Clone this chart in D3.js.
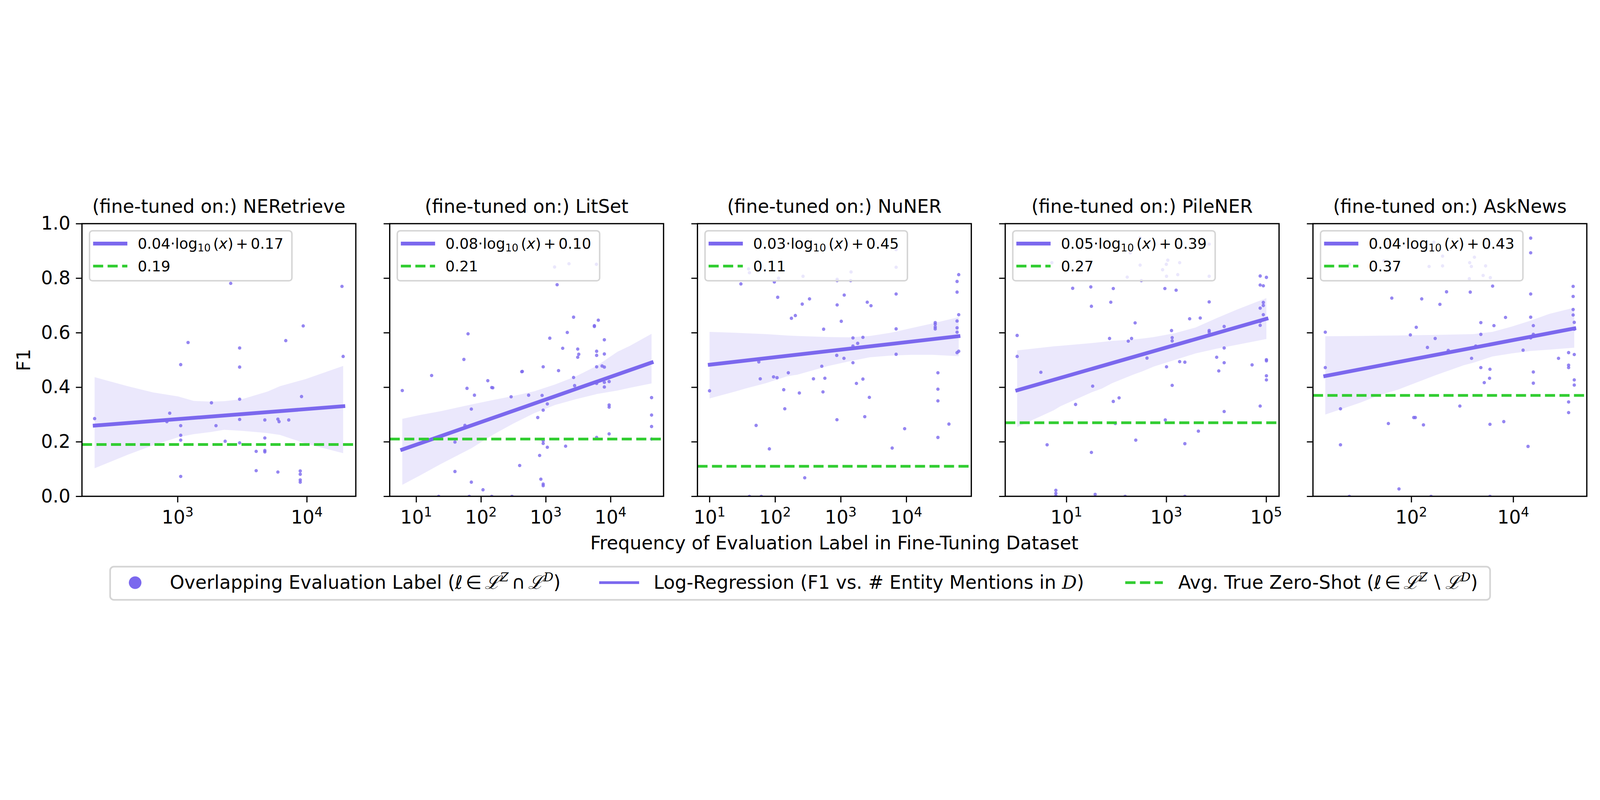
<!DOCTYPE html>
<html>
<head>
<meta charset="utf-8">
<script src="https://cdn.jsdelivr.net/npm/d3@7"></script>
<style>
  html, body { margin: 0; padding: 0; background: #fff; overflow: hidden; }
  svg { display: block; width: 100vw; height: 100vh; font-family: "DejaVu Sans", sans-serif; }
</style>
</head>
<body>
<svg id="chart" viewBox="0 0 7613 2049" preserveAspectRatio="xMidYMid meet"></svg>
<script>
// panel titles and fit labels
var titles = ["NERetrieve", "LitSet", "NuNER", "PileNER", "AskNews"];
var slopes = ["0.04", "0.08", "0.03", "0.05", "0.04"];
var intercepts = ["0.17", "0.10", "0.45", "0.39", "0.43"];
var zeroShot = [0.19, 0.21, 0.11, 0.27, 0.37];

// x limits and ticks as log10 exponents
var xLimits = [[2.26, 4.379], [0.591, 4.818], [0.816, 4.99], [-0.226, 5.257], [0.07, 5.443]];
var xTicks = [[3, 4], [1, 2, 3, 4], [1, 2, 3, 4], [1, 3, 5], [2, 4]];
var yTicks = [0, 0.2, 0.4, 0.6, 0.8, 1.0];

// scatter points: [log10(frequency), F1]
var nerPts = [[2.358,0.285],[2.917,0.274],[2.939,0.305],[3.024,0.483],[3.024,0.259],[3.024,0.224],[3.024,0.206],[3.024,0.073],[3.081,0.564],[3.262,0.343],[3.297,0.259],[3.368,0.202],[3.411,0.781],[3.48,0.544],[3.48,0.474],[3.48,0.356],[3.48,0.282],[3.48,0.196],[3.608,0.165],[3.608,0.094],[3.675,0.28],[3.675,0.214],[3.675,0.168],[3.675,0.163],[3.776,0.283],[3.776,0.089],[3.785,0.274],[3.837,0.571],[3.86,0.28],[3.949,0.093],[3.949,0.081],[3.949,0.06],[3.949,0.052],[3.959,0.366],[3.972,0.625],[4.272,0.77],[4.281,0.513]];
var litPts = [[0.785,0.388],[1.238,0.443],[1.347,0],[1.598,0.199],[1.598,0.091],[1.736,0.502],[1.752,0.26],[1.784,0.396],[1.8,0.596],[1.819,0],[1.851,0.32],[1.851,0.052],[1.899,0.371],[2.031,0.024],[2.105,0.424],[2.166,0.399],[2.182,0.398],[2.166,0],[2.465,0.365],[2.478,0],[2.597,0.113],[2.629,0.457],[2.638,0.458],[2.735,0.371],[2.876,0.289],[2.905,0.15],[2.924,0.063],[2.943,0.37],[2.96,0.475],[2.96,0.316],[2.96,0.204],[2.96,0.194],[2.96,0.045],[2.96,0.039],[3.024,0.339],[3.024,0.18],[3.062,0.58],[3.136,0.841],[3.175,0.776],[3.197,0.461],[3.261,0.543],[3.306,0.184],[3.332,0.601],[3.358,0.853],[3.429,0.657],[3.429,0.436],[3.445,0.406],[3.493,0.54],[3.509,0.521],[3.493,0.51],[3.75,0.626],[3.75,0.623],[3.782,0.851],[3.785,0.532],[3.785,0.517],[3.785,0.475],[3.785,0.414],[3.785,0.216],[3.811,0.646],[3.869,0.478],[3.904,0.574],[3.904,0.522],[3.904,0.474],[3.904,0.418],[3.904,0.401],[3.978,0.421],[3.978,0.335],[3.978,0.327],[3.978,0.229],[4.633,0.362],[4.633,0.298],[4.633,0.256],[4.633,0.21]];
var nuPts = [[1,0.387],[1.478,0.779],[1.595,0.834],[1.608,0.82],[1.608,0],[1.71,0.26],[1.751,0.493],[1.773,0.431],[1.789,0],[1.912,0.174],[1.976,0.438],[1.988,0.786],[2.029,0.435],[2.039,0.73],[2.052,0.8],[2.131,0.391],[2.147,0.321],[2.201,0.453],[2.248,0.653],[2.308,0.663],[2.369,0.379],[2.413,0.705],[2.425,0.807],[2.451,0.068],[2.524,0.724],[2.584,0.431],[2.711,0.477],[2.729,0.383],[2.739,0.613],[2.758,0.433],[2.939,0.517],[2.942,0.281],[2.945,0.791],[2.945,0.796],[2.945,0.702],[3.008,0.642],[3.049,0.506],[3.053,0.738],[3.151,0.791],[3.157,0.823],[3.186,0.581],[3.186,0.551],[3.186,0.49],[3.258,0.561],[3.239,0.414],[3.338,0.583],[3.338,0.43],[3.366,0.292],[3.404,0.712],[3.436,0.363],[3.461,0.699],[3.784,0.177],[3.844,0.905],[3.844,0.84],[3.844,0.742],[3.844,0.614],[3.844,0.521],[3.974,0.248],[4.44,0.637],[4.44,0.631],[4.44,0.621],[4.44,0.614],[4.481,0.453],[4.481,0.393],[4.481,0.35],[4.481,0.216],[4.649,0.265],[4.773,0.788],[4.773,0.749],[4.773,0.643],[4.773,0.618],[4.773,0.602],[4.773,0.527],[4.798,0.813],[4.798,0.666],[4.798,0.532]];
var pilePts = [[0.013,0.59],[0.013,0.513],[0.488,0.455],[0.613,0.189],[0.708,0.857],[0.788,0.022],[0.788,0.011],[0.788,0.002],[1.125,0.763],[1.183,0.337],[1.488,0.768],[1.5,0.697],[1.5,0.161],[1.525,0.404],[1.575,0.007],[1.863,0.579],[1.888,0.712],[1.938,0.762],[1.938,0.348],[1.979,0.267],[2.054,0.361],[2.175,0],[2.217,0.804],[2.238,0.569],[2.279,0.893],[2.304,0.579],[2.375,0.636],[2.388,0.206],[2.475,0.948],[2.475,0.848],[2.5,0.791],[2.613,0.507],[2.925,0.831],[2.971,0.762],[2.979,0.28],[3,0.851],[3.004,0.807],[3.004,0.475],[3.029,0.866],[3.104,0.608],[3.117,0.582],[3.117,0.57],[3.117,0.407],[3.196,0.756],[3.229,0.813],[3.267,0.857],[3.267,0.494],[3.371,0.492],[3.371,0.193],[3.371,0],[3.467,0.651],[3.642,0.239],[3.679,0.654],[3.858,0.925],[3.858,0.807],[3.858,0.713],[3.858,0.608],[3.858,0.602],[4.008,0.51],[4.05,0.46],[4.158,0.623],[4.158,0.544],[4.158,0.49],[4.158,0.311],[4.717,0.482],[4.879,0.808],[4.879,0.775],[4.879,0.69],[4.879,0.641],[4.879,0.627],[4.879,0.331],[4.942,0.772],[4.942,0.711],[4.942,0.7],[4.942,0.666],[5.004,0.803],[5.004,0.501],[5.004,0.497],[5.004,0.442],[5.004,0.427]];
var askPts = [[0.312,0.602],[0.312,0.472],[0.61,0.321],[0.61,0.189],[0.784,0.851],[0.784,0],[1.465,0.864],[1.55,0.267],[1.617,0.727],[1.695,0.828],[1.758,0.027],[1.981,0.592],[2.011,0.912],[2.048,0.289],[2.078,0.289],[2.097,0.62],[2.204,0.724],[2.238,0.262],[2.316,0.546],[2.349,0.843],[2.387,0],[2.442,0.932],[2.468,0.579],[2.561,0.704],[2.613,0.881],[2.613,0.845],[2.691,0.75],[2.725,0.535],[2.952,0.331],[3.138,0.798],[3.145,0.857],[3.156,0.749],[3.178,0.843],[3.182,0.506],[3.238,0.877],[3.264,0.551],[3.364,0.637],[3.364,0.594],[3.364,0.472],[3.409,0.81],[3.431,0.417],[3.457,0.845],[3.535,0.433],[3.543,0.466],[3.543,0.264],[3.543,0],[3.55,0.802],[3.595,0.771],[3.621,0.626],[3.814,0.274],[3.848,0.656],[4.193,0.536],[4.29,0.183],[4.342,0.947],[4.342,0.893],[4.342,0.742],[4.342,0.657],[4.342,0.581],[4.394,0.626],[4.394,0.594],[4.394,0.456],[4.394,0.415],[4.888,0.506],[5.086,0.527],[5.086,0.481],[5.086,0.472],[5.086,0.346],[5.086,0.307],[5.175,0.77],[5.175,0.733],[5.175,0.685],[5.175,0.665],[5.197,0.638],[5.197,0.613],[5.197,0.52],[5.197,0.427],[5.197,0.408]];
var points = [nerPts, litPts, nuPts, pilePts, askPts];

// regression line ends: [log10(frequency), F1]
var regStart = [[2.344,0.259],[0.756,0.169],[0.975,0.482],[-0.021,0.387],[0.275,0.44]];
var regEnd = [[4.297,0.331],[4.662,0.493],[4.823,0.588],[5.042,0.653],[5.234,0.617]];

// confidence band: [log10(frequency), lower, upper]
var nerBand = [[2.358,0.103,0.437],[2.612,0.152,0.404],[2.809,0.187,0.381],[3.006,0.217,0.366],[3.124,0.228,0.35],[3.262,0.236,0.347],[3.36,0.244,0.349],[3.498,0.24,0.356],[3.596,0.236,0.37],[3.695,0.232,0.384],[3.793,0.225,0.404],[3.99,0.194,0.43],[4.281,0.158,0.478]];
var litBand = [[0.785,0.042,0.284],[1.055,0.076,0.298],[1.376,0.118,0.312],[1.858,0.177,0.337],[2.179,0.225,0.353],[2.5,0.267,0.368],[2.821,0.305,0.385],[3.143,0.335,0.41],[3.464,0.356,0.44],[3.785,0.375,0.478],[4.106,0.388,0.53],[4.299,0.398,0.552],[4.633,0.414,0.596]];
var nuBand = [[1,0.359,0.603],[1.386,0.384,0.6],[1.545,0.395,0.598],[1.862,0.415,0.595],[2.178,0.44,0.59],[2.337,0.446,0.588],[2.812,0.478,0.584],[3.129,0.495,0.583],[3.445,0.51,0.588],[3.762,0.516,0.6],[4.079,0.519,0.617],[4.396,0.519,0.634],[4.798,0.514,0.657]];
var pileBand = [[0.013,0.254,0.535],[0.75,0.316,0.55],[0.875,0.33,0.552],[1.5,0.381,0.562],[1.708,0.395,0.566],[1.917,0.415,0.57],[2.333,0.446,0.575],[2.542,0.46,0.579],[2.75,0.476,0.584],[3.167,0.5,0.598],[3.583,0.524,0.619],[4,0.541,0.653],[4.417,0.556,0.685],[5.004,0.577,0.727]];
var askBand = [[0.312,0.3,0.587],[0.989,0.343,0.588],[1.361,0.37,0.589],[1.732,0.391,0.59],[2.476,0.444,0.592],[3.033,0.481,0.594],[3.219,0.49,0.595],[3.591,0.513,0.603],[3.963,0.524,0.622],[4.335,0.533,0.644],[4.706,0.538,0.669],[5.197,0.545,0.692]];
var bands = [nerBand, litBand, nuBand, pileBand, askBand];

var purple = "#7b68ee", green = "#32cd32";

var svg = d3.select("#chart");
var top0 = 185, bottom0 = 1483, panelW = 1303, step = 1464.3, left0 = 390;

var y = d3.scaleLinear().domain([0, 1]).range([bottom0, top0]);

titles.forEach(function(name, i) {
    var left = left0 + i * step, right = left + panelW;
    var x = d3.scaleLog()
        .domain([Math.pow(10, xLimits[i][0]), Math.pow(10, xLimits[i][1])])
        .range([left, right]);
    var g = svg.append("g");

    g.append("clipPath").attr("id", "clip" + i)
        .append("rect").attr("x", left).attr("y", top0).attr("width", panelW).attr("height", bottom0 - top0);
    var plot = g.append("g").attr("clip-path", "url(#clip" + i + ")");

    var area = d3.area()
        .x(function(d) { return x(Math.pow(10, d[0])); })
        .y0(function(d) { return y(d[1]); })
        .y1(function(d) { return y(d[2]); });
    plot.append("path").datum(bands[i]).attr("d", area)
        .attr("fill", purple).attr("fill-opacity", 0.15);

    plot.selectAll("circle").data(points[i]).enter().append("circle")
        .attr("cx", function(d) { return x(Math.pow(10, d[0])); })
        .attr("cy", function(d) { return y(d[1]); })
        .attr("r", 8)
        .attr("fill", purple).attr("fill-opacity", 0.8);

    plot.append("line")
        .attr("x1", x(Math.pow(10, regStart[i][0]))).attr("y1", y(regStart[i][1]))
        .attr("x2", x(Math.pow(10, regEnd[i][0]))).attr("y2", y(regEnd[i][1]))
        .attr("stroke", purple).attr("stroke-width", 18);

    plot.append("line")
        .attr("x1", left).attr("x2", right)
        .attr("y1", y(zeroShot[i])).attr("y2", y(zeroShot[i]))
        .attr("stroke", green).attr("stroke-width", 13).attr("stroke-dasharray", "48,21");

    // axes
    var yAxis = d3.axisLeft(y).tickValues(yTicks).tickSize(29).tickPadding(26)
        .tickFormat(i === 0 ? d3.format(".1f") : "");
    var ya = g.append("g").attr("transform", "translate(" + left + ",0)").call(yAxis);
    var xAxis = d3.axisBottom(x).tickValues(xTicks[i].map(function(e) { return Math.pow(10, e); }))
        .tickSize(29).tickFormat("");
    var xa = g.append("g").attr("transform", "translate(0," + bottom0 + ")").call(xAxis);
    [ya, xa].forEach(function(a) {
        a.select(".domain").remove();
        a.selectAll("line").attr("stroke", "#000").attr("stroke-width", 5.5);
        a.selectAll("text").attr("font-size", 88).attr("fill", "#000").attr("font-family", "DejaVu Sans");
    });

    xTicks[i].forEach(function(e) {
        var t = g.append("text").attr("x", x(Math.pow(10, e))).attr("y", 1613)
            .attr("text-anchor", "middle").attr("font-size", 88);
        t.append("tspan").text("10");
        t.append("tspan").attr("font-size", 62).attr("dy", -33).text(e);
    });

    g.append("rect").attr("x", left).attr("y", top0).attr("width", panelW).attr("height", bottom0 - top0)
        .attr("fill", "none").attr("stroke", "#000").attr("stroke-width", 6);

    g.append("text").attr("x", left + panelW / 2).attr("y", 133)
        .attr("text-anchor", "middle").attr("font-size", 88)
        .text("(fine-tuned on:) " + name);

    // in-panel legend
    var bx = left + 36, by = 219;
    g.append("rect").attr("x", bx).attr("y", by).attr("width", 963).attr("height", 238)
        .attr("rx", 14).attr("fill", "#fff").attr("fill-opacity", 0.8)
        .attr("stroke", "#d5d5d5").attr("stroke-width", 7);
    g.append("line").attr("x1", bx + 17).attr("x2", bx + 180).attr("y1", 280).attr("y2", 280)
        .attr("stroke", purple).attr("stroke-width", 18);
    g.append("line").attr("x1", bx + 17).attr("x2", bx + 180).attr("y1", 387).attr("y2", 387)
        .attr("stroke", green).attr("stroke-width", 13).attr("stroke-dasharray", "48,21");
    var lt = g.append("text").attr("x", bx + 229).attr("y", 304).attr("font-size", 70);
    lt.append("tspan").text(slopes[i] + "\u00b7log");
    lt.append("tspan").attr("font-size", 49).attr("dy", 13).text("10");
    lt.append("tspan").attr("dy", -13).attr("dx", 12).text("(");
    lt.append("tspan").attr("font-style", "italic").text("x");
    lt.append("tspan").text(")");
    lt.append("tspan").attr("dx", 12).text("+");
    lt.append("tspan").attr("dx", 12).text(intercepts[i]);
    g.append("text").attr("x", bx + 229).attr("y", 412).attr("font-size", 70)
        .text(d3.format(".2f")(zeroShot[i]));
});

// shared labels
svg.append("text").attr("transform", "translate(143,834) rotate(-90)")
    .attr("text-anchor", "middle").attr("font-size", 88).text("F1");
svg.append("text").attr("x", 3970).attr("y", 1735).attr("text-anchor", "middle")
    .attr("font-size", 88).text("Frequency of Evaluation Label in Fine-Tuning Dataset");

// bottom legend
var leg = svg.append("g");
leg.append("rect").attr("x", 524).attr("y", 1818).attr("width", 6566).attr("height", 158)
    .attr("rx", 18).attr("fill", "#fff").attr("stroke", "#d5d5d5").attr("stroke-width", 8);
leg.append("circle").attr("cx", 643).attr("cy", 1894).attr("r", 30).attr("fill", purple);
leg.append("line").attr("x1", 2851).attr("x2", 3041).attr("y1", 1894).attr("y2", 1894)
    .attr("stroke", purple).attr("stroke-width", 13);
leg.append("line").attr("x1", 5354).attr("x2", 5533).attr("y1", 1894).attr("y2", 1894)
    .attr("stroke", green).attr("stroke-width", 13).attr("stroke-dasharray", "49,21");

function mathLabel(xPos, before, op, after) {
    var t = leg.append("text").attr("x", xPos).attr("y", 1924).attr("font-size", 88);
    t.append("tspan").text(before + "(");
    if (op) {
        t.append("tspan").attr("font-style", "italic").text("\u2113");
        t.append("tspan").attr("dx", 14).text("\u2208");
        t.append("tspan").attr("dx", 14).attr("font-family", "DejaVu Serif").attr("font-style", "italic").text("\u2112");
        t.append("tspan").attr("font-size", 60).attr("dy", -36).attr("font-family", "DejaVu Serif").attr("font-style", "italic").text("Z");
        t.append("tspan").attr("dy", 36).attr("dx", 14).text(op);
        t.append("tspan").attr("dx", 14).attr("font-family", "DejaVu Serif").attr("font-style", "italic").text("\u2112");
        t.append("tspan").attr("font-size", 60).attr("dy", -36).attr("font-family", "DejaVu Serif").attr("font-style", "italic").text("D");
        t.append("tspan").attr("dy", 36).text(")");
    } else {
        t.append("tspan").text(after);
        t.append("tspan").attr("font-family", "DejaVu Serif").attr("font-style", "italic").text("D");
        t.append("tspan").text(")");
    }
}
mathLabel(808, "Overlapping Evaluation Label ", "\u2229");
mathLabel(3110, "Log-Regression ", null, "F1 vs. # Entity Mentions in ");
mathLabel(5606, "Avg. True Zero-Shot ", "\u2216");
</script>
</body>
</html>
